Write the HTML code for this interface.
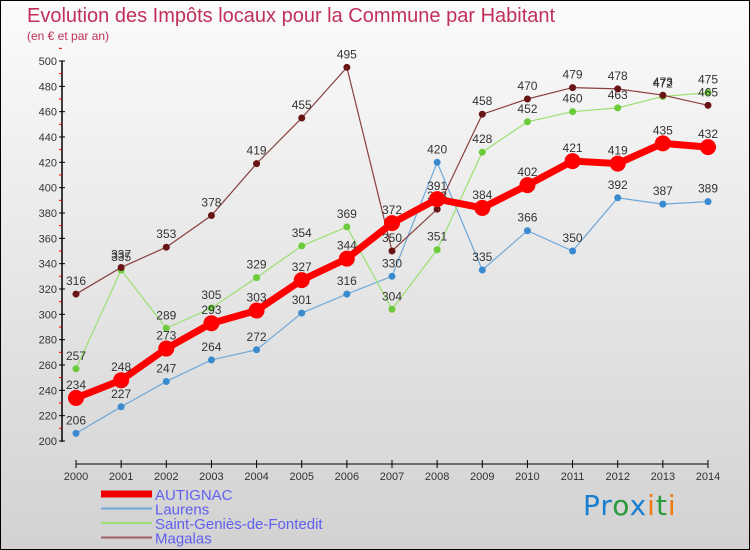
<!DOCTYPE html>
<html><head><meta charset="utf-8"><style>
body{margin:0;}
#c{width:748px;height:548px;border:1px solid #000;background:linear-gradient(#fbfbfb,#d2d2d2);position:relative;font-family:"Liberation Sans",sans-serif;overflow:hidden}
.t{position:absolute;left:26px;top:4px;font-size:20px;color:#c0305a;}
.s{position:absolute;left:26px;top:28px;font-size:12px;color:#c0305a;}
</style></head><body>
<div id="c">
<div class="t">Evolution des Impôts locaux pour la Commune par Habitant</div>
<div class="s">(en € et par an)</div>
<svg id="g" width="748" height="548" style="position:absolute;left:0;top:0"></svg>
<div style="position:absolute;left:582px;top:488px;font-size:28px;font-family:'DejaVu Sans',sans-serif;letter-spacing:1px"><span style="color:#1a7fd0">Pr</span><span style="color:#2a9a3a">o</span><span style="color:#1a7fd0">x</span><span style="color:#f07a10">i</span><span style="color:#2a9a3a">t</span><span style="color:#f07a10">i</span></div>
</div>
<script>
const years=[2000,2001,2002,2003,2004,2005,2006,2007,2008,2009,2010,2011,2012,2013,2014];
const autignac=[234,248,273,293,303,327,344,372,391,384,402,421,419,435,432];
const laurens=[206,227,247,264,272,301,316,330,420,335,366,350,392,387,389];
const saintGenies=[257,335,289,305,329,354,369,304,351,428,452,460,463,472,475];
const magalas=[316,337,353,378,419,455,495,350,383,458,470,479,478,473,465];
const yTicks=[200,220,240,260,280,300,320,340,360,380,400,420,440,460,480,500];
const NS="http://www.w3.org/2000/svg";
const svg=document.getElementById('g');
const xs=i=>75+i*(632/14);
const ys=v=>440-(v-200)*380/300;
function mk(t,a,p){const e=document.createElementNS(NS,t);for(const k in a)e.setAttribute(k,a[k]);(p||svg).appendChild(e);return e;}
let ax=mk('line',{x1:61,y1:60,x2:61,y2:441,stroke:'#000','stroke-width':1.5});


let bx=mk('line',{x1:75,y1:463,x2:707,y2:463,stroke:'#000','stroke-width':1});


yTicks.forEach(v=>{
 mk('line',{x1:58,x2:64,y1:ys(v),y2:ys(v),stroke:'#000'});
 mk('line',{x1:58,x2:61,y1:ys(v+10),y2:ys(v+10),stroke:'#e00'});
 const t=mk('text',{x:56,y:ys(v)+4,'text-anchor':'end','font-size':11,fill:'#333'});t.textContent=v;
 
 
});
years.forEach((y,i)=>{
 mk('line',{x1:xs(i),x2:xs(i),y1:459,y2:467,stroke:'#000'});
 const t=mk('text',{x:xs(i),y:479,'text-anchor':'middle','font-size':11,fill:'#333'});t.textContent=y;
 
 
});
function series(data,color,dot,w,r,name){
 const g=mk('g',{});
 
 
 mk('polyline',{points:data.map((v,i)=>xs(i)+','+ys(v)).join(' '),fill:'none',stroke:color,'stroke-width':w},g);
 data.forEach((v,i)=>{
  const c=mk('circle',{cx:xs(i),cy:ys(v),r:r,fill:dot},g);
  
  
  const t=mk('text',{x:xs(i),y:ys(v)-9,'text-anchor':'middle','font-size':12,fill:'#333'},g);t.textContent=v;
 });
}
series(laurens,'#6fa8d8','#3a8ad0',1.2,3.5,'series-laurens');
series(saintGenies,'#9be070','#6ccb3a',1.2,3.5,'series-saint-genies');
series(magalas,'#8a4040','#6a1515',1.2,3.5,'series-magalas');
series(autignac,'#ff0000','#ff0000',7,8,'series-autignac');
const legend=[['AUTIGNAC','#e00',7],['Laurens','#6fa8d8',2],['Saint-Geniès-de-Fontedit','#9be070',2],['Magalas','#a06060',2]];
legend.forEach((l,i)=>{
 const y=493+i*14.5;
 const g=mk('g',{});
 
 
 mk('line',{x1:100,x2:151,y1:y,y2:y,stroke:l[1],'stroke-width':l[2]},g);
 const t=mk('text',{x:154,y:y+6,'font-size':15,fill:'#6060ee'},g);t.textContent=l[0];
});
</script>
</body></html>
